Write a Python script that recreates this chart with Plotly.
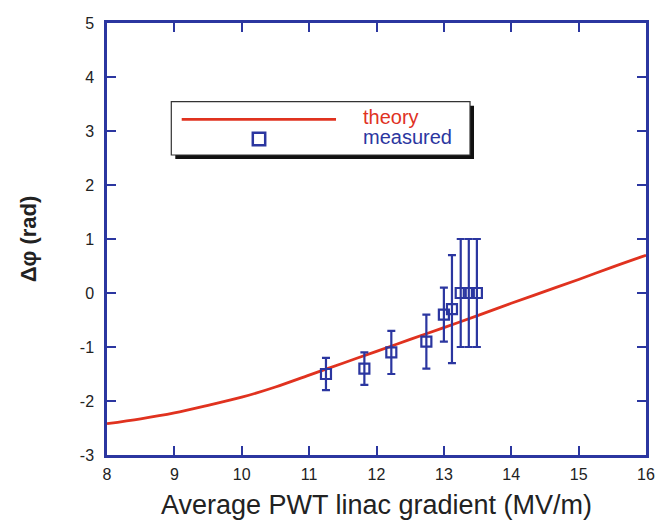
import plotly.graph_objects as go

# Theory curve
theory_x = [8.0, 8.5, 9.0, 9.5, 10.0, 10.5, 11.0, 11.5, 12.0, 12.5, 13.0, 13.5, 14.0, 14.5, 15.0, 15.5, 16.0]
theory_y = [-2.42, -2.33, -2.22, -2.08, -1.93, -1.74, -1.52, -1.30, -1.08, -0.86, -0.64, -0.42, -0.19, 0.03, 0.25, 0.48, 0.70]

# Measured points
meas_x = [11.25, 11.82, 12.22, 12.74, 13.0, 13.12, 13.25, 13.37, 13.49]
meas_y = [-1.5, -1.4, -1.1, -0.9, -0.4, -0.3, 0.0, 0.0, 0.0]
meas_err = [0.3, 0.3, 0.4, 0.5, 0.5, 1.0, 1.0, 1.0, 1.0]

x_ticks = [8, 9, 10, 11, 12, 13, 14, 15, 16]
y_ticks = [-3, -2, -1, 0, 1, 2, 3, 4, 5]

RED = "#E0321F"
BLUE = "#2B36A0"
AXIS = "#2B36A0"
FONT = "Liberation Sans, Arial, sans-serif"

fig = go.Figure()
fig.add_trace(go.Scatter(x=theory_x, y=theory_y, mode="lines", name="theory",
                         line=dict(color=RED, width=2.8, shape="spline"), showlegend=False))
fig.add_trace(go.Scatter(x=meas_x, y=meas_y, mode="markers", name="measured",
                         marker=dict(symbol="square-open", size=10, color=BLUE, line=dict(width=2.2, color=BLUE)),
                         error_y=dict(type="data", array=meas_err, visible=True, color=BLUE, thickness=2.2, width=4),
                         showlegend=False))

# Manual legend (box with shadow)
fig.add_shape(type="rect", xref="paper", yref="paper", x0=0.1267, x1=0.6809, y0=0.6852, y1=0.8086,
              fillcolor="#111111", line=dict(width=0), layer="above")
fig.add_shape(type="rect", xref="paper", yref="paper", x0=0.1193, x1=0.6735, y0=0.6944, y1=0.8178,
              fillcolor="white", line=dict(width=1.2, color="#333333"), layer="above")
fig.add_shape(type="line", xref="paper", yref="paper", x0=0.1386, x1=0.4249, y0=0.7771, y1=0.7771,
              line=dict(color=RED, width=2.8), layer="above")
fig.add_shape(type="rect", xref="paper", yref="paper", x0=0.2820 - 0.0115, x1=0.2820 + 0.0115,
              y0=0.7315 - 0.0143, y1=0.7315 + 0.0143, line=dict(color=BLUE, width=2.5), layer="above")
fig.add_annotation(xref="paper", yref="paper", x=0.4707, y=0.783, text="theory", showarrow=False,
                   xanchor="left", yanchor="middle", font=dict(family=FONT, size=20, color=RED))
fig.add_annotation(xref="paper", yref="paper", x=0.4707, y=0.737, text="measured", showarrow=False,
                   xanchor="left", yanchor="middle", font=dict(family=FONT, size=20, color=BLUE))

axis_common = dict(showgrid=False, zeroline=False, showline=True, linecolor=AXIS, linewidth=2.5,
                   mirror="ticks", ticks="inside", ticklen=9, tickwidth=2.2, tickcolor=AXIS,
                   tickfont=dict(family=FONT, size=16, color="#222222"))

fig.update_xaxes(range=[8, 16], tickvals=x_ticks, ticktext=[str(v) for v in x_ticks],
                 title=dict(text="Average PWT linac gradient (MV/m)", font=dict(family=FONT, size=27, color="#222222"),
                            standoff=14),
                 ticklabelstandoff=3, **axis_common)
fig.update_yaxes(range=[-3, 5], tickvals=y_ticks, ticktext=[str(v) for v in y_ticks],
                 title=dict(text="<b>Δφ (rad)</b>", font=dict(family=FONT, size=22, color="#222222"),
                            standoff=38),
                 ticklabelstandoff=7, **axis_common)

fig.update_layout(width=658, height=525, margin=dict(l=107, r=12, t=23, b=70, autoexpand=False),
                  plot_bgcolor="white", paper_bgcolor="white", showlegend=False)

fig.write_html("out.html")
